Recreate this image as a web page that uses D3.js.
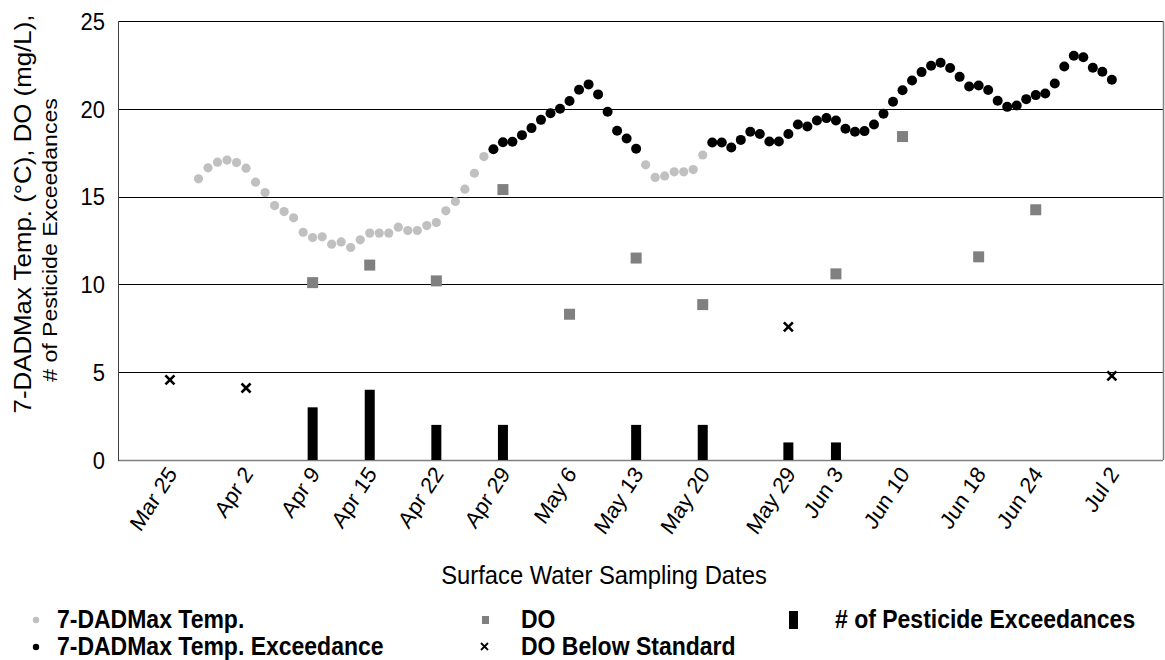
<!DOCTYPE html>
<html><head><meta charset="utf-8">
<script src="https://cdn.jsdelivr.net/npm/d3@7"></script>
<style>body{margin:0;background:#fff;} text{font-family:"Liberation Sans",Arial,sans-serif;}</style>
</head><body><svg id="c" width="1165" height="660"></svg>
<script>
// ---- data ----
const tempStart = "2019-03-28";
const tempValues = [16.01,16.64,16.96,17.08,16.94,16.62,15.82,15.23,14.49,14.15,13.79,12.97,12.67,12.71,12.29,12.42,12.10,12.54,12.92,12.92,12.92,13.26,13.07,13.07,13.35,13.52,14.19,14.72,15.42,16.33,17.28,17.70,18.10,18.12,18.50,18.90,19.37,19.75,20.00,20.44,21.08,21.39,20.82,19.83,18.75,18.31,17.72,16.81,16.09,16.18,16.41,16.41,16.54,17.37,18.08,18.08,17.80,18.23,18.69,18.56,18.14,18.14,18.56,19.11,18.99,19.33,19.47,19.33,18.86,18.69,18.73,19.11,19.72,20.40,21.06,21.61,22.09,22.45,22.62,22.32,21.82,21.27,21.33,21.07,20.46,20.11,20.19,20.55,20.78,20.87,21.44,22.41,23.02,22.94,22.34,22.11,21.65];
const exceedancePeriods = [["2019-04-28","2019-05-13"],["2019-05-21","2019-07-02"]];
const sampleDates = ["2019-03-25","2019-04-02","2019-04-09","2019-04-15","2019-04-22","2019-04-29","2019-05-06","2019-05-13","2019-05-20","2019-05-29","2019-06-03","2019-06-10","2019-06-18","2019-06-24","2019-07-02"];
const sampleLabels = ["Mar 25","Apr 2","Apr 9","Apr 15","Apr 22","Apr 29","May 6","May 13","May 20","May 29","Jun 3","Jun 10","Jun 18","Jun 24","Jul 2"];
const doValues = [null,null,10.1,11.1,10.2,15.4,8.3,11.5,8.85,null,10.6,18.42,11.57,14.25,null];
const doBelowStd = [4.56,4.1,null,null,null,null,null,null,null,7.58,null,null,null,null,4.79];
const pesticideExc = [0,0,3,4,2,2,0,2,2,1,1,0,0,0,0];
const yTicks = [0,5,10,15,20,25];

// ---- chart ----
const svg = d3.select("#c");
const parse = d3.utcParse("%Y-%m-%d");
const L=118, R=1163, T=21, B=460, K=1.1;
const x = d3.scaleUtc()
  .domain([d3.utcHour.offset(parse(sampleDates[0]), -131), d3.utcHour.offset(parse(sampleDates[14]), 129)])
  .range([L, R]);
const y = d3.scaleLinear().domain([0,25]).range([B,T]);

// gridlines
svg.append("g").selectAll("line").data(yTicks.filter(d=>d>0)).join("line")
  .attr("x1",L).attr("x2",R).attr("y1",d=>Math.round(y(d))+0.5).attr("y2",d=>Math.round(y(d))+0.5)
  .attr("stroke","#000").attr("stroke-width",1);
// frame
svg.append("line").attr("x1",L).attr("x2",R).attr("y1",B+0.5).attr("y2",B+0.5).attr("stroke","#808080").attr("stroke-width",1.5);
svg.append("line").attr("x1",R+0.5).attr("x2",R+0.5).attr("y1",T).attr("y2",B).attr("stroke","#808080").attr("stroke-width",1.5);
svg.append("line").attr("x1",L+0.5).attr("x2",L+0.5).attr("y1",T).attr("y2",B+1).attr("stroke","#404040").attr("stroke-width",1);

// y axis labels
const yg = svg.append("g");
yg.selectAll("text").data(yTicks).join("text")
  .attr("transform",d=>`translate(105,${y(d)}) scale(1,${K})`)
  .attr("dy","0.36em").attr("text-anchor","end").attr("font-size",22).attr("fill","#000").text(d=>d);

// x axis labels
const xg = svg.append("g");
xg.selectAll("text").data(sampleDates).join("text")
  .attr("transform",(d)=>`translate(${x(parse(d))+8},${474}) scale(1,${K}) rotate(-55)`)
  .attr("text-anchor","end").attr("font-size",21).attr("fill","#000")
  .text((d,i)=>sampleLabels[i]);

// axis titles
svg.append("text").attr("transform",`translate(31,214) scale(1,${K}) rotate(-90)`).attr("text-anchor","middle")
  .attr("font-size",23.5).text("7-DADMax Temp. (°C), DO (mg/L),");
svg.append("text").attr("transform",`translate(57,240) scale(1,${K}) rotate(-90)`).attr("text-anchor","middle")
  .attr("font-size",21).text("# of Pesticide Exceedances");
svg.append("text").attr("transform",`translate(604,584) scale(1,${K})`).attr("text-anchor","middle").attr("font-size",23.8).text("Surface Water Sampling Dates");

// pesticide bars
const sampleData = sampleDates.map((d,i)=>({date:parse(d),doV:doValues[i],below:doBelowStd[i],pest:pesticideExc[i]}));
svg.append("g").selectAll("rect").data(sampleData.filter(d=>d.pest>0)).join("rect")
  .attr("x",d=>x(d.date)-5).attr("width",10).attr("y",d=>y(d.pest)).attr("height",d=>y(0)-y(d.pest))
  .attr("fill","#000");

// temps
const start = parse(tempStart);
const periods = exceedancePeriods.map(p=>[parse(p[0]),parse(p[1])]);
const temps = tempValues.map((v,i)=>{const dt=d3.utcDay.offset(start,i);return {date:dt,v,exc:periods.some(p=>dt>=p[0]&&dt<=p[1])};});
svg.append("g").selectAll("circle").data(temps).join("circle")
  .attr("cx",d=>x(d.date)).attr("cy",d=>y(d.v)).attr("r",d=>d.exc?5:4.6)
  .attr("fill",d=>d.exc?"#000":"#c0c0c0");

// DO squares
svg.append("g").selectAll("rect").data(sampleData.filter(d=>d.doV!=null)).join("rect")
  .attr("x",d=>x(d.date)-5.5).attr("y",d=>y(d.doV)-5.5).attr("width",11).attr("height",11).attr("fill","#808080");

// DO below standard crosses
svg.append("g").selectAll("path").data(sampleData.filter(d=>d.below!=null)).join("path")
  .attr("d",d=>{const cx=x(d.date),cy=y(d.below),s=4.5;return `M${cx-s},${cy-s}L${cx+s},${cy+s}M${cx-s},${cy+s}L${cx+s},${cy-s}`;})
  .attr("stroke","#000").attr("stroke-width",2.6).attr("fill","none");

// legend
const lg = svg.append("g").attr("font-size",23).attr("font-weight","bold");
const row1=628, row2=655;
const ltext=(x0,y0,t)=>lg.append("text").attr("transform",`translate(${x0},${y0}) scale(1,${K})`).text(t);
lg.append("circle").attr("cx",36).attr("cy",row1-8).attr("r",3.2).attr("fill","#c0c0c0");
ltext(57,row1,"7-DADMax Temp.");
lg.append("circle").attr("cx",36).attr("cy",row2-8).attr("r",3.2).attr("fill","#000");
ltext(57,row2,"7-DADMax Temp. Exceedance");
lg.append("rect").attr("x",482).attr("y",row1-12).attr("width",7).attr("height",8).attr("fill","#808080");
ltext(521,row1,"DO");
lg.append("path").attr("d",`M481,${row2-12}L488,${row2-5}M481,${row2-5}L488,${row2-12}`).attr("stroke","#000").attr("stroke-width",1.8);
ltext(521,row2,"DO Below Standard");
lg.append("rect").attr("x",789).attr("y",row1-17).attr("width",9).attr("height",18).attr("fill","#000");
ltext(835,row1,"# of Pesticide Exceedances");
</script></body></html>
